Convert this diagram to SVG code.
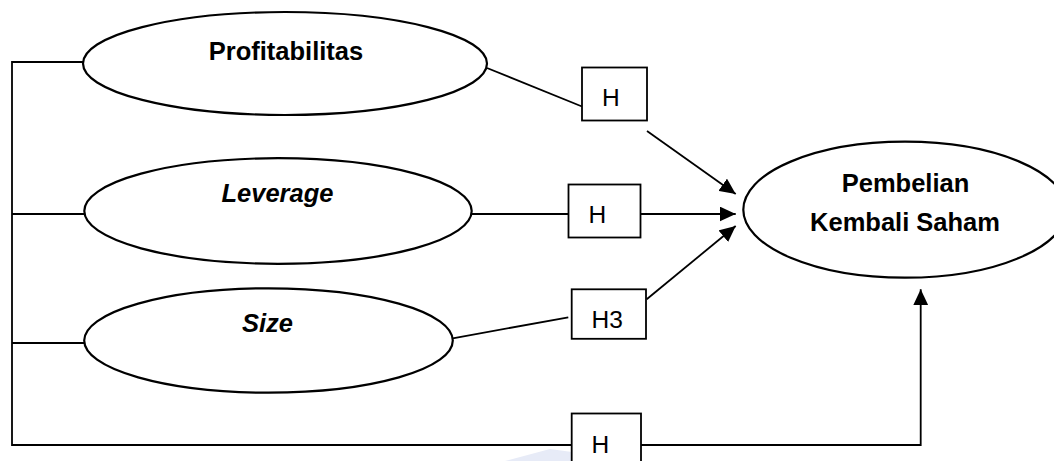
<svg xmlns="http://www.w3.org/2000/svg" width="1054" height="461" viewBox="0 0 1054 461">
<style>
.ell{fill:#fff;stroke:#000;stroke-width:2.2}
.box{fill:#fff;stroke:#000;stroke-width:1.8}
.ln{fill:none;stroke:#000;stroke-width:1.8}
.lbl{font-family:"Liberation Sans",Arial,sans-serif;font-weight:bold;font-size:25.5px;text-anchor:middle;fill:#000}
.it{font-style:italic}
.h{font-family:"Liberation Sans",Arial,sans-serif;font-size:24.5px;fill:#000}
</style>
<defs>
<marker id="arr" viewBox="0 0 16 15" refX="16" refY="7.5" markerWidth="16" markerHeight="15" markerUnits="userSpaceOnUse" orient="auto">
<path d="M0,0 L16,7.5 L0,15 Z" fill="#000"/>
</marker>
</defs>
<rect width="1054" height="461" fill="#fff"/>
<polygon points="505,461 550,449 572,452 572,461" fill="#e7ebf7"/>
<g id="connectors">
<polyline class="ln" points="84,62 12,62 12,445 572,445"/>
<line class="ln" x1="12" y1="214" x2="84" y2="214"/>
<line class="ln" x1="12" y1="343" x2="84" y2="343"/>
<line class="ln" x1="487" y1="68" x2="582" y2="106.5"/>
<line class="ln" x1="647" y1="131" x2="735.7" y2="194" marker-end="url(#arr)"/>
<line class="ln" x1="472" y1="214" x2="568.5" y2="214"/>
<line class="ln" x1="640.5" y1="214" x2="735.7" y2="214" marker-end="url(#arr)"/>
<line class="ln" x1="452.7" y1="338.3" x2="568.3" y2="317.3"/>
<line class="ln" x1="646.7" y1="299.3" x2="735.7" y2="226" marker-end="url(#arr)"/>
<polyline class="ln" points="641,445 920.7,445 920.7,289.3" marker-end="url(#arr)"/>
</g>
<g id="profitabilitas">
<ellipse class="ell" cx="285" cy="63.5" rx="202" ry="51.5"/>
<text class="lbl" x="286" y="59.5">Profitabilitas</text>
</g>
<g id="leverage">
<ellipse class="ell" cx="278" cy="211" rx="193.7" ry="52.8"/>
<text class="lbl it" x="277.5" y="201.7">Leverage</text>
</g>
<g id="size">
<ellipse class="ell" cx="268.5" cy="340.5" rx="184.3" ry="52.2"/>
<text class="lbl it" x="267.5" y="331.7">Size</text>
</g>
<g id="pembelian">
<ellipse class="ell" cx="905" cy="209.7" rx="161.7" ry="68"/>
<text class="lbl" x="905.5" y="191.7">Pembelian</text>
<text class="lbl" x="905" y="230.5">Kembali Saham</text>
</g>
<g id="h1">
<rect class="box" x="582" y="67.5" width="65" height="53"/>
<text class="h" x="602" y="106">H</text>
</g>
<g id="h2">
<rect class="box" x="568.5" y="184.5" width="72" height="53"/>
<text class="h" x="588.5" y="222.7">H</text>
</g>
<g id="h3">
<rect class="box" x="571.7" y="289.3" width="74.3" height="49.5"/>
<text class="h" x="591.5" y="327.7">H3</text>
</g>
<g id="h4">
<rect class="box" x="571.7" y="413.5" width="69.3" height="60"/>
<text class="h" x="591.5" y="452.7">H</text>
</g>
</svg>
